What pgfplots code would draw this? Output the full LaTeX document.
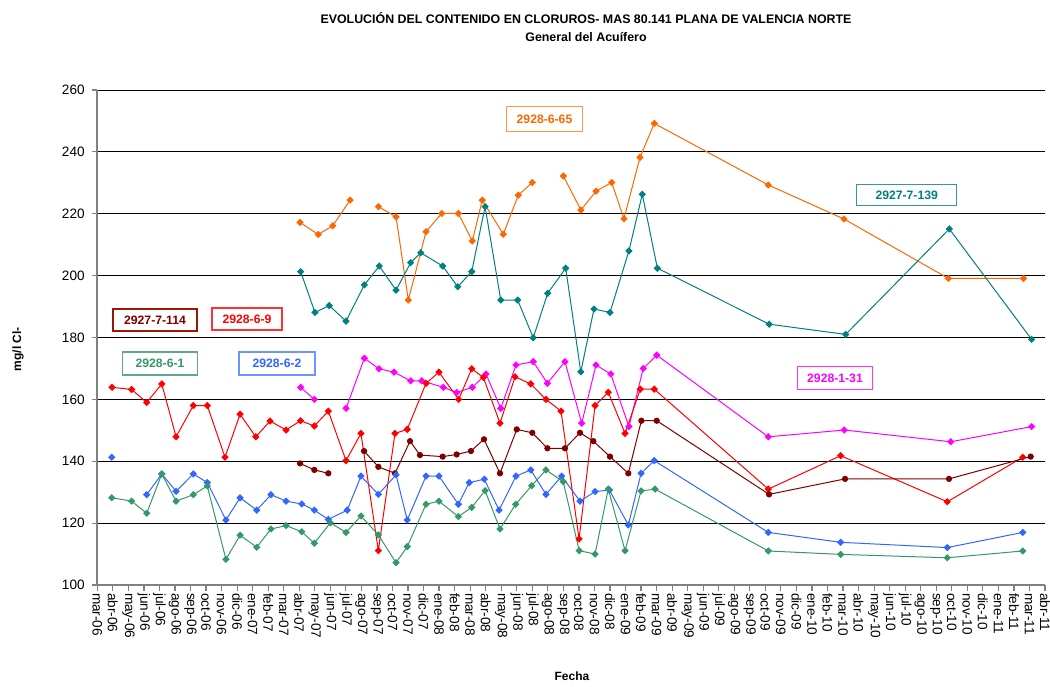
\documentclass[border=0pt]{standalone}
\usepackage{fontspec}
\setmainfont{Liberation Sans}
\usepackage{pgfplots}
\pgfplotsset{compat=1.18}
\definecolor{cOrange}{HTML}{FF6600}
\definecolor{cTeal}{HTML}{008080}
\definecolor{cMag}{HTML}{FF00FF}
\definecolor{cRed}{HTML}{FF0000}
\definecolor{cBrown}{HTML}{800000}
\definecolor{cBlue}{HTML}{3366FF}
\definecolor{cGreen}{HTML}{339966}
\begin{document}
\begin{tikzpicture}
\begin{axis}[
  at={(48.65pt,-292.5pt)}, anchor=south west,
  scale only axis, width=473.85pt, height=247.5pt,
  xmin=0, xmax=61, ymin=100, ymax=260,
  axis x line=bottom, axis y line=left,
  axis line style={-, draw=gray, line width=1pt},
  tick align=outside, major tick length=2.8pt,
  tick style={draw=gray, line width=0.6pt},
  ymajorgrids, major grid style={black, line width=0.5pt},
  xtick={0,...,61},
  xticklabels={mar-06,abr-06,may-06,jun-06,jul-06,ago-06,sep-06,oct-06,nov-06,dic-06,
    ene-07,feb-07,mar-07,abr-07,may-07,jun-07,jul-07,ago-07,sep-07,oct-07,nov-07,dic-07,
    ene-08,feb-08,mar-08,abr-08,may-08,jun-08,jul-08,ago-08,sep-08,oct-08,nov-08,dic-08,
    ene-09,feb-09,mar-09,abr-09,may-09,jun-09,jul-09,ago-09,sep-09,oct-09,nov-09,dic-09,
    ene-10,feb-10,mar-10,abr-10,may-10,jun-10,jul-10,ago-10,sep-10,oct-10,nov-10,dic-10,
    ene-11,feb-11,mar-11,abr-11},
  xticklabel style={rotate=-90, anchor=west, font=\fontsize{6.8}{7}\selectfont, inner sep=1pt},
  ytick={100,120,...,260},
  yticklabel style={font=\fontsize{6.8}{7}\selectfont},
  /pgf/number format/assume math mode=true,
  unbounded coords=jump,
  every axis plot/.append style={line width=0.5pt},
]
% 2928-6-65
\addplot[color=cOrange, mark=square*, mark size=1.05pt, mark options={rotate=45}] coordinates {
(13.05,217.2)(14.22,213.3)(15.15,216.1)(16.27,224.4)(17.2,nan)(18.09,222.3)(19.23,219.0)
(20.02,192.1)(21.16,214.2)(22.17,220.1)(23.24,220.1)(24.14,211.2)(24.78,224.4)(26.13,213.4)
(27.10,226.0)(28.00,230.1)(29.0,nan)(30.00,232.2)(31.13,221.2)(32.10,227.3)(33.11,230.1)
(33.90,218.4)(34.93,238.2)(35.85,249.2)(43.19,229.3)(48.06,218.3)(54.78,199.1)(59.62,199.1)};
% 2927-7-139
\addplot[color=cTeal, mark=square*, mark size=1.05pt, mark options={rotate=45}] coordinates {
(13.09,201.3)(14.01,188.1)(14.93,190.3)(16.01,185.3)(17.19,197.0)(18.15,203.1)(19.23,195.3)
(20.17,204.2)(20.82,207.4)(22.23,203.1)(23.20,196.4)(24.10,201.3)(24.96,222.3)(25.97,192.1)
(27.06,192.1)(28.06,179.9)(28.99,194.3)(30.15,202.4)(31.12,168.9)(31.97,189.2)(33.00,188.1)
(34.22,208.0)(35.08,226.3)(36.05,202.4)(43.25,184.3)(48.17,181.0)(54.84,215.1)(60.14,179.4)};
% 2928-1-31
\addplot[color=cMag, mark=square*, mark size=1.05pt, mark options={rotate=45}] coordinates {
(13.09,163.9)(13.97,160.0)(15.0,nan)(16.01,157.1)(17.19,173.3)(18.13,169.9)(19.10,168.8)
(20.17,166.0)(20.88,166.0)(22.27,163.9)(23.13,162.2)(24.14,163.9)(25.02,168.2)(25.97,157.1)
(26.95,171.1)(28.06,172.2)(28.97,165.2)(30.10,172.2)(31.18,152.3)(32.10,171.1)(33.05,168.2)
(34.22,151.2)(35.14,170.0)(36.01,174.3)(43.19,147.9)(48.08,150.1)(54.93,146.3)(60.14,151.2)};
% 2928-6-9
\addplot[color=cRed, mark=square*, mark size=1.05pt, mark options={rotate=45}] coordinates {
(0.95,163.9)(2.21,163.2)(3.18,159.0)(4.15,165.0)(5.07,147.9)(6.18,158.0)(7.08,158.0)
(8.22,141.3)(9.19,155.2)(10.20,147.9)(11.12,153.0)(12.15,150.1)(13.08,153.1)(13.97,151.4)
(14.87,156.2)(16.01,140.2)(16.97,149.0)(18.09,111.1)(19.16,149.0)(19.95,150.3)(21.16,165.2)
(21.99,168.8)(23.26,160.0)(24.10,169.9)(24.85,167.1)(25.92,152.3)(26.89,167.3)(27.90,165.0)
(28.88,160.0)(29.85,156.2)(31.01,114.9)(32.04,158.0)(32.89,162.3)(33.97,149.0)(34.95,163.3)
(35.85,163.3)(43.19,131.0)(47.85,141.8)(54.71,126.9)(59.57,141.3)};
% 2927-7-114
\addplot[color=cBrown, mark=*, mark size=1.3pt] coordinates {
(13.05,139.3)(13.97,137.2)(14.87,136.1)(16.0,nan)(17.17,143.3)(18.09,138.2)(19.16,136.1)
(20.13,146.5)(20.77,142.0)(22.23,141.5)(23.13,142.2)(24.05,143.3)(24.89,147.1)(25.92,136.1)
(27.00,150.3)(28.00,149.2)(28.97,144.2)(30.10,144.2)(31.07,149.2)(31.93,146.5)(33.00,141.5)
(34.18,136.1)(35.02,153.1)(36.01,153.1)(43.24,129.3)(48.13,134.3)(54.82,134.3)(60.08,141.5)};
% 2928-6-2
\addplot[color=cBlue, mark=square*, mark size=1.05pt, mark options={rotate=45}] coordinates {
(0.93,141.3)(2.2,nan)(3.18,129.2)(4.15,135.9)(5.07,130.3)(6.18,135.9)(7.08,133.1)
(8.28,121.0)(9.19,128.2)(10.26,124.2)(11.18,129.2)(12.15,127.1)(13.16,126.2)(13.97,124.2)
(14.87,121.2)(16.09,124.2)(16.97,135.2)(18.09,129.3)(19.23,135.6)(19.95,121.0)(21.16,135.2)
(21.99,135.2)(23.24,126.1)(23.94,133.1)(24.91,134.2)(25.86,124.2)(26.95,135.2)(27.90,137.2)
(28.88,129.3)(29.89,135.2)(31.07,127.1)(32.04,130.2)(32.96,130.7)(34.18,119.4)(35.00,136.1)
(35.85,140.2)(43.19,117.0)(47.85,113.8)(54.71,112.1)(59.57,117.0)};
% 2928-6-1
\addplot[color=cGreen, mark=square*, mark size=1.05pt, mark options={rotate=45}] coordinates {
(0.93,128.2)(2.21,127.1)(3.18,123.2)(4.15,135.9)(5.07,127.1)(6.18,129.2)(7.08,132.0)
(8.28,108.3)(9.19,116.1)(10.26,112.2)(11.18,118.1)(12.15,119.2)(13.16,117.2)(13.97,113.5)
(15.00,120.1)(16.01,117.0)(16.97,122.3)(18.09,116.2)(19.23,107.2)(19.95,112.4)(21.16,126.1)
(21.99,127.1)(23.24,122.1)(24.10,125.1)(24.96,130.5)(25.92,118.1)(26.93,126.1)(27.96,132.1)
(28.88,137.2)(29.99,133.4)(31.02,111.1)(32.04,110.0)(32.89,131.0)(33.97,111.1)(35.00,130.4)
(35.90,131.0)(43.19,111.0)(47.85,109.9)(54.71,108.8)(59.57,111.0)};
\end{axis}
\begin{scope}[x=0.5pt,y=-0.5pt]
\node[font=\bfseries\fontsize{6.2}{7}\selectfont] at (586,18) {EVOLUCIÓN DEL CONTENIDO EN CLORUROS- MAS 80.141 PLANA DE VALENCIA NORTE};
\node[font=\bfseries\fontsize{6.2}{7}\selectfont] at (586,37) {General del Acuífero};
\node[font=\bfseries\fontsize{6}{7}\selectfont, rotate=90] at (18,349) {mg/l Cl-};
\node[font=\bfseries\fontsize{6}{7}\selectfont] at (572,676) {Fecha};
\tikzset{lbl/.style={font=\bfseries\fontsize{6.1}{7}\selectfont, fill=white, line width=0.6pt, inner sep=0pt, minimum height=11pt}}
\node[lbl, draw=cOrange!70, text=cOrange, minimum width=38pt, minimum height=12.8pt] at (544.5,119) {2928-6-65};
\node[lbl, draw=cTeal!80, text=cTeal, minimum width=50pt, minimum height=10.7pt] at (906.7,195) {2927-7-139};
\node[lbl, draw=cMag!80, text=cMag, minimum width=37.8pt, minimum height=11.3pt] at (835,378) {2928-1-31};
\node[lbl, draw=cBrown!80!orange, text=cBrown, minimum width=42pt] at (155,320) {2927-7-114};
\node[lbl, draw=cRed!80, text=cRed, minimum width=35pt] at (247,319) {2928-6-9};
\node[lbl, draw=cGreen!80, text=cGreen, minimum width=37.5pt, minimum height=11.5pt] at (160,363.5) {2928-6-1};
\node[lbl, draw=cBlue!70, text=cBlue, minimum width=38pt, minimum height=11.5pt] at (277,363.5) {2928-6-2};
\end{scope}
\pgfresetboundingbox
\useasboundingbox (0,0) rectangle (525pt,-343pt);
\end{tikzpicture}
\end{document}
